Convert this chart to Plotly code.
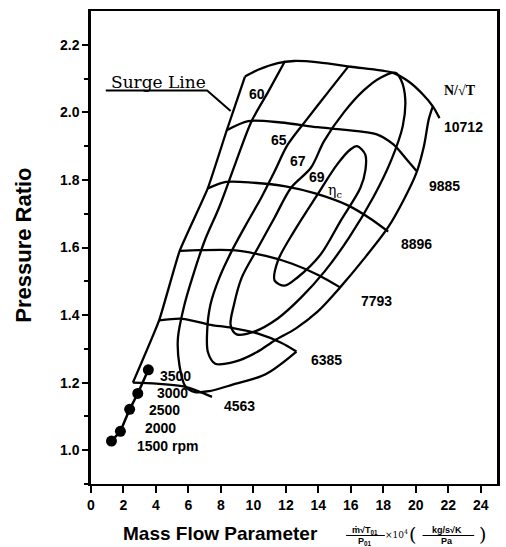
import plotly.graph_objects as go

# ---------------- data ----------------
rpm_x = [1.26, 1.81, 2.38, 2.88, 3.53]
rpm_y = [1.027, 1.056, 1.121, 1.168, 1.238]
rpm_labels = ["1500 rpm", "2000", "2500", "3000", "3500"]
rpm_label_x = [4.71, 4.30, 4.51, 5.01, 5.22]
rpm_label_y = [1.013, 1.066, 1.120, 1.169, 1.219]

surge_x = [2.58, 4.20, 5.46, 7.19, 8.36, 9.48]
surge_y = [1.200, 1.385, 1.590, 1.775, 1.947, 2.106]

n4563_x = [2.58, 4.03, 5.87, 7.45]
n4563_y = [1.200, 1.197, 1.187, 1.158]
n6385_x = [4.20, 5.62, 7.25, 8.67, 10.29, 11.71, 12.65]
n6385_y = [1.384, 1.389, 1.372, 1.362, 1.345, 1.318, 1.292]
n7793_x = [5.46, 6.68, 8.72, 10.76, 12.39, 14.02, 15.34]
n7793_y = [1.590, 1.592, 1.592, 1.575, 1.552, 1.518, 1.482]
n8896_x = [7.19, 8.31, 9.94, 11.98, 13.81, 15.85, 17.28, 18.30]
n8896_y = [1.775, 1.794, 1.792, 1.781, 1.760, 1.724, 1.683, 1.647]
n9885_x = [8.36, 9.68, 11.70, 13.95, 15.50, 17.60, 18.62, 19.43, 20.03]
n9885_y = [1.947, 1.974, 1.970, 1.956, 1.949, 1.935, 1.905, 1.861, 1.827]
n10712_x = [9.48, 10.29, 11.50, 12.50, 14.00, 16.00, 18.60, 19.60, 20.44, 21.05, 21.46]
n10712_y = [2.106, 2.126, 2.146, 2.152, 2.148, 2.135, 2.117, 2.090, 2.053, 2.018, 1.983]

eff60_x = [11.95, 10.90, 9.90, 8.90, 7.90, 7.00, 6.30, 5.75, 5.35, 5.45, 5.80, 6.40, 7.30, 8.72, 10.75, 12.65]
eff60_y = [2.152, 2.060, 1.975, 1.850, 1.720, 1.620, 1.520, 1.430, 1.330, 1.250, 1.190, 1.172, 1.175, 1.194, 1.225, 1.292]
eff65_x = [15.85, 14.60, 13.30, 12.12, 11.31, 10.49, 9.68, 8.67, 7.90, 7.35, 7.15, 7.20, 7.65, 8.87,
           10.20, 11.31, 12.60, 13.95, 15.34, 16.87, 18.30, 19.30, 20.03, 20.50, 20.80, 21.05]
eff65_y = [2.136, 2.060, 1.980, 1.905, 1.826, 1.748, 1.679, 1.590, 1.510, 1.430, 1.350, 1.290, 1.256, 1.262,
           1.290, 1.325, 1.360, 1.410, 1.482, 1.570, 1.660, 1.745, 1.820, 1.900, 1.980, 2.018]
eff67_x = [18.75, 17.80, 16.79, 15.57, 14.35, 13.54, 12.32, 11.31, 10.29, 9.28, 8.80, 8.60, 8.97, 10.00,
           11.50, 12.90, 14.40, 15.90, 17.40, 18.50, 19.20, 19.35, 19.10, 18.75]
eff67_y = [2.117, 2.102, 2.065, 2.000, 1.915, 1.836, 1.777, 1.689, 1.600, 1.511, 1.430, 1.370, 1.343, 1.350,
           1.390, 1.450, 1.530, 1.630, 1.750, 1.860, 1.960, 2.040, 2.095, 2.117]
eff69_x = [16.38, 16.89, 16.90, 16.59, 15.37, 14.15, 12.73, 11.92, 11.31, 11.51, 12.53, 13.95, 15.16, 15.97, 16.38]
eff69_y = [1.900, 1.875, 1.830, 1.777, 1.679, 1.580, 1.512, 1.487, 1.502, 1.561, 1.650, 1.757, 1.846, 1.890, 1.900]

speed_labels = ["10712", "9885", "8896", "7793", "6385", "4563"]
speed_label_x = [22.95, 21.76, 20.03, 17.58, 14.53, 9.13]
speed_label_y = [1.958, 1.781, 1.611, 1.441, 1.266, 1.132]

eff_labels = ["60", "65", "67", "69"]
eff_label_x = [10.22, 11.59, 12.76, 13.93]
eff_label_y = [2.053, 1.917, 1.857, 1.808]

surge_text_x, surge_text_y = 4.16, 2.089
surge_lead_x = [0.91, 7.15, 8.60]
surge_lead_y = [2.065, 2.065, 2.004]

x_ticks = list(range(0, 25, 2))
y_ticks = [1.0, 1.2, 1.4, 1.6, 1.8, 2.0, 2.2]

# ---------------- figure ----------------
LW = 2.3
fig = go.Figure()

def add_line(xs, ys, smooth=0.8, width=LW):
    fig.add_trace(go.Scatter(x=xs, y=ys, mode="lines",
                             line=dict(color="black", width=width, shape="spline", smoothing=smooth),
                             hoverinfo="skip", showlegend=False))

add_line(surge_x, surge_y, smooth=0.4)
for xs, ys in [(n4563_x, n4563_y), (n6385_x, n6385_y), (n7793_x, n7793_y),
               (n8896_x, n8896_y), (n9885_x, n9885_y), (n10712_x, n10712_y)]:
    add_line(xs, ys, smooth=0.8)
for xs, ys in [(eff60_x, eff60_y), (eff65_x, eff65_y), (eff67_x, eff67_y), (eff69_x, eff69_y)]:
    add_line(xs, ys, smooth=0.9)

# surge label leader
fig.add_trace(go.Scatter(x=surge_lead_x, y=surge_lead_y, mode="lines",
                         line=dict(color="black", width=2), hoverinfo="skip", showlegend=False))

# operating points
fig.add_trace(go.Scatter(x=rpm_x, y=rpm_y, mode="lines+markers",
                         line=dict(color="black", width=2.5),
                         marker=dict(color="black", size=11),
                         hoverinfo="skip", showlegend=False))

BOLD = dict(family="Liberation Sans, Arial, sans-serif", size=14, color="black")

def txt(x, y, s, font=BOLD, **kw):
    fig.add_annotation(x=x, y=y, text=s, showarrow=False, font=font,
                       xanchor="center", yanchor="middle", **kw)

for s, x, y in zip(rpm_labels, rpm_label_x, rpm_label_y):
    txt(x, y, "<b>%s</b>" % s)
for s, x, y in zip(speed_labels, speed_label_x, speed_label_y):
    txt(x, y, "<b>%s</b>" % s)
for s, x, y in zip(eff_labels, eff_label_x, eff_label_y):
    txt(x, y, "<b>%s</b>" % s)
txt(15.0, 1.768, "η<sub>c</sub>", font=dict(family="DejaVu Serif, serif", size=14, color="black"))
txt(22.7, 2.066, "<b>N/√T</b>", font=dict(family="Liberation Serif, serif", size=14, color="black"))
txt(surge_text_x, surge_text_y, "Surge Line", font=dict(family="DejaVu Serif, serif", size=17, color="black"))

# axis titles
txt(-0.166, 0.505, "<b>Pressure Ratio</b>", xref="paper", yref="paper", textangle=-90,
    font=dict(family="Liberation Sans, Arial, sans-serif", size=22, color="black"))
txt(0.320, -0.104, "<b>Mass Flow Parameter</b>", xref="paper", yref="paper",
    font=dict(family="Liberation Sans, Arial, sans-serif", size=19, color="black"))

# unit formula below the axis
SM = dict(family="Liberation Sans, Arial, sans-serif", size=9, color="black")
def px(fx):
    return (fx - 91) / 409
def py(fy):
    return (484 - fy) / 473
txt(px(367), py(530), "<b>ṁ√T<sub>01</sub></b>", font=SM, xref="paper", yref="paper")
txt(px(367), py(541), "<b>P<sub>01</sub></b>", font=SM, xref="paper", yref="paper")
fig.add_shape(type="line", xref="paper", yref="paper", x0=px(348), x1=px(387), y0=py(535.5), y1=py(535.5),
              line=dict(color="black", width=1.2))
txt(px(399), py(534), "×10<sup>4</sup>", font=dict(family="DejaVu Serif, serif", size=9, color="black"),
    xref="paper", yref="paper")
txt(px(415), py(534), "(", font=dict(family="DejaVu Serif, serif", size=19, color="black"), xref="paper", yref="paper")
txt(px(450), py(530), "<b>kg/s√K</b>", font=SM, xref="paper", yref="paper")
txt(px(450), py(541), "<b>Pa</b>", font=SM, xref="paper", yref="paper")
fig.add_shape(type="line", xref="paper", yref="paper", x0=px(425), x1=px(477), y0=py(535.5), y1=py(535.5),
              line=dict(color="black", width=1.2))
txt(px(485), py(534), ")", font=dict(family="DejaVu Serif, serif", size=19, color="black"), xref="paper", yref="paper")

TICKF = dict(family="Liberation Sans, Arial, sans-serif", size=14, color="black")
fig.update_layout(
    width=506, height=547,
    margin=dict(l=91, r=6, t=11, b=63),
    paper_bgcolor="white", plot_bgcolor="white",
    xaxis=dict(range=[0, 25], tickvals=x_ticks, ticktext=["<b>%d</b>" % v for v in x_ticks],
               ticks="outside", ticklen=7, tickwidth=2, tickcolor="black",
               showline=True, linecolor="black", linewidth=2, mirror=True,
               showgrid=False, zeroline=False, tickfont=TICKF),
    yaxis=dict(range=[0.9, 2.3], tickvals=y_ticks, ticktext=["<b>%.1f</b>" % v for v in y_ticks],
               ticks="outside", ticklen=6, tickwidth=2, tickcolor="black",
               minor=dict(tickvals=[0.9, 1.1, 1.3, 1.5, 1.7, 1.9, 2.1], ticks="outside", ticklen=4,
                          tickwidth=2, tickcolor="black"),
               showline=True, linecolor="black", linewidth=2.5, mirror=True,
               showgrid=False, zeroline=False, tickfont=TICKF),
)

fig.write_html("out.html")
